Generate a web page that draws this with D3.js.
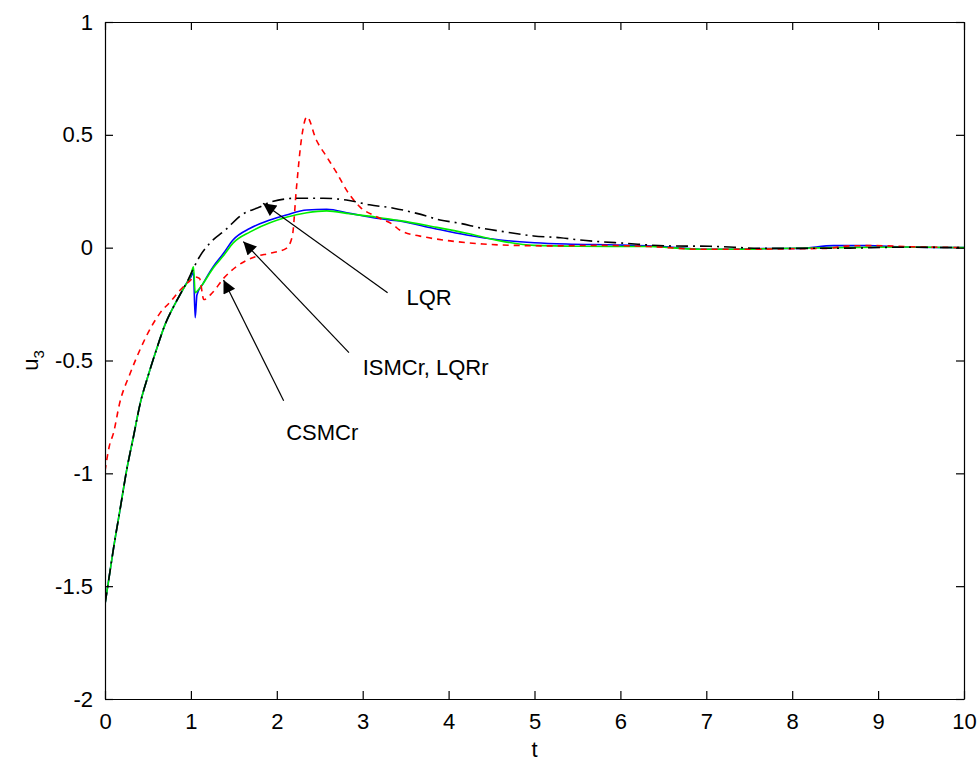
<!DOCTYPE html>
<html>
<head>
<meta charset="utf-8">
<script src="https://cdn.jsdelivr.net/npm/d3@7"></script>
<style>
  body { margin: 0; background: #fff; }
  svg text { font-family: Arial, "Liberation Sans", sans-serif; fill: #000; }
</style>
</head>
<body>
<div id="chart"></div>
<script>
// ---- data ----
const xTicks = [0, 1, 2, 3, 4, 5, 6, 7, 8, 9, 10];
const yTicks = [1, 0.5, 0, -0.5, -1, -1.5, -2];

// ISMCr (blue)
const tBlue = [0, 0.04, 0.1, 0.18, 0.25, 0.33, 0.41, 0.5, 0.6, 0.7, 0.8, 0.9, 0.97, 1.0, 1.03, 1.05, 1.07, 1.14, 1.26, 1.38, 1.49, 1.69, 1.92, 2.11, 2.35, 2.58, 2.85, 3.16, 3.43, 3.82, 4.21, 4.6, 5.0, 5.37, 5.96, 6.54, 6.93, 7.31, 7.7, 8.09, 8.48, 8.87, 9.25, 10];
const uBlue = [-1.58, -1.48, -1.33, -1.15, -0.99, -0.84, -0.69, -0.57, -0.45, -0.34, -0.26, -0.19, -0.145, -0.13, -0.11, -0.31, -0.21, -0.16, -0.084, -0.025, 0.034, 0.086, 0.123, 0.145, 0.167, 0.17, 0.152, 0.13, 0.118, 0.086, 0.056, 0.034, 0.022, 0.016, 0.012, 0.004, -0.007, -0.007, -0.004, -0.003, 0.009, 0.009, 0.004, 0];

// LQRr (green)
const tGreen = [0, 0.04, 0.1, 0.18, 0.25, 0.33, 0.41, 0.5, 0.6, 0.7, 0.8, 0.9, 0.97, 1.0, 1.03, 1.05, 1.08, 1.14, 1.26, 1.38, 1.49, 1.69, 1.92, 2.11, 2.35, 2.58, 2.85, 3.16, 3.43, 3.82, 4.21, 4.6, 5.0, 5.5, 6.3, 6.93, 7.31, 7.8, 8.5, 9.3, 10];
const uGreen = [-1.58, -1.48, -1.33, -1.15, -0.99, -0.84, -0.69, -0.57, -0.45, -0.34, -0.26, -0.19, -0.145, -0.12, -0.085, -0.2, -0.19, -0.16, -0.09, -0.035, 0.02, 0.07, 0.11, 0.135, 0.155, 0.163, 0.15, 0.135, 0.12, 0.093, 0.064, 0.03, 0.01, 0.006, 0.005, -0.007, -0.007, -0.004, 0.0, 0.003, 0];

// CSMCr (red dashed)
const tRed = [0, 0.05, 0.1, 0.17, 0.29, 0.41, 0.54, 0.64, 0.76, 0.87, 0.97, 1.05, 1.1, 1.15, 1.25, 1.38, 1.53, 1.75, 1.92, 2.11, 2.18, 2.23, 2.29, 2.35, 2.46, 2.58, 2.7, 2.81, 2.97, 3.16, 3.36, 3.43, 3.74, 4.02, 4.4, 4.79, 5.18, 5.76, 6.34, 6.93, 7.4, 8.0, 8.4, 8.67, 8.94, 9.4, 10];
const uRed = [-0.99, -0.88, -0.82, -0.69, -0.56, -0.45, -0.35, -0.29, -0.24, -0.19, -0.153, -0.13, -0.136, -0.23, -0.2, -0.136, -0.084, -0.04, -0.025, -0.003, 0.05, 0.27, 0.49, 0.58, 0.477, 0.403, 0.33, 0.256, 0.18, 0.137, 0.1, 0.078, 0.046, 0.03, 0.016, 0.01, 0.008, 0.01, 0.005, -0.007, -0.007, -0.005, -0.003, 0.008, 0.009, 0.004, 0];

// LQR (black dash-dot)
const tBlack = [0, 0.04, 0.1, 0.18, 0.25, 0.33, 0.41, 0.5, 0.6, 0.7, 0.8, 0.9, 0.97, 1.09, 1.22, 1.4, 1.59, 1.8, 1.94, 2.23, 2.54, 2.81, 3.08, 3.36, 3.63, 3.9, 4.13, 4.39, 4.64, 4.99, 5.3, 5.53, 6.07, 6.54, 7.04, 7.7, 8.01, 8.67, 9.25, 10];
const uBlack = [-1.58, -1.48, -1.33, -1.15, -0.99, -0.84, -0.69, -0.57, -0.45, -0.34, -0.26, -0.19, -0.14, -0.047, 0.02, 0.078, 0.145, 0.18, 0.204, 0.219, 0.219, 0.211, 0.19, 0.175, 0.152, 0.123, 0.108, 0.086, 0.071, 0.052, 0.044, 0.034, 0.019, 0.008, 0.006, -0.003, -0.003, -0.002, 0.002, 0];

// annotation labels with arrow tip / tail / text anchor (data units)
const noteLabels = ["LQR", "ISMCr, LQRr", "CSMCr"];
const noteTip = [[1.84, 0.197], [1.61, 0.027], [1.38, -0.143]];
const noteTail = [[3.29, -0.2], [2.84, -0.465], [2.08, -0.678]];
const noteText = [[3.51, -0.255], [3.0, -0.564], [2.11, -0.852]];

// ---- layout ----
const width = 980, height = 765;
const margin = { left: 105, right: 16, top: 22, bottom: 66 };
const innerW = width - margin.left - margin.right;
const innerH = height - margin.top - margin.bottom;

const svg = d3.select("#chart").append("svg")
  .attr("width", width)
  .attr("height", height)
  .style("background", "#fff");

const x = d3.scaleLinear().domain([0, 10]).range([margin.left, margin.left + innerW]);
const y = d3.scaleLinear().domain([-2, 1]).range([margin.top + innerH, margin.top]);

// clip to plot box
svg.append("clipPath").attr("id", "plotclip")
  .append("rect")
  .attr("x", margin.left).attr("y", margin.top)
  .attr("width", innerW).attr("height", innerH);

const line = d3.line()
  .x(d => x(d[0]))
  .y(d => y(d[1]))
  .curve(d3.curveMonotoneX);

const series = [
  { t: tBlue, u: uBlue, color: "#0000ff", dash: null },
  { t: tGreen, u: uGreen, color: "#00ee00", dash: null },
  { t: tRed, u: uRed, color: "#ff0000", dash: "6,5" },
  { t: tBlack, u: uBlack, color: "#000000", dash: "12,5,2,5" }
];

const plot = svg.append("g").attr("clip-path", "url(#plotclip)");
series.forEach(s => {
  plot.append("path")
    .datum(s.t.map((t, i) => [t, s.u[i]]))
    .attr("fill", "none")
    .attr("stroke", s.color)
    .attr("stroke-width", 1.6)
    .attr("stroke-dasharray", s.dash)
    .attr("d", line);
});

// ---- axes (MATLAB-style box with inward ticks) ----
const tickLen = 8;
const axisStyle = g => {
  g.select(".domain").attr("stroke", "#000").attr("stroke-width", 1.2);
  g.selectAll(".tick line").attr("stroke", "#000").attr("stroke-width", 1.2);
  g.selectAll(".tick text").attr("font-size", 22).attr("font-family", "Arial, 'Liberation Sans', sans-serif");
};

svg.append("g")
  .attr("transform", `translate(0,${margin.top + innerH})`)
  .call(d3.axisBottom(x).tickValues(xTicks).tickSizeInner(-tickLen).tickSizeOuter(0).tickPadding(14).tickFormat(d3.format("d")))
  .call(axisStyle);

svg.append("g")
  .attr("transform", `translate(0,${margin.top})`)
  .call(d3.axisTop(x).tickValues(xTicks).tickSizeInner(-tickLen).tickSizeOuter(0).tickFormat(""))
  .call(axisStyle);

svg.append("g")
  .attr("transform", `translate(${margin.left},0)`)
  .call(d3.axisLeft(y).tickValues(yTicks).tickSizeInner(-tickLen).tickSizeOuter(0).tickPadding(12).tickFormat(d => String(d)))
  .call(axisStyle);

svg.append("g")
  .attr("transform", `translate(${margin.left + innerW},0)`)
  .call(d3.axisRight(y).tickValues(yTicks).tickSizeInner(-tickLen).tickSizeOuter(0).tickFormat(""))
  .call(axisStyle);

// axis labels
svg.append("text")
  .attr("x", x(5))
  .attr("y", 757)
  .attr("text-anchor", "middle")
  .attr("font-size", 22)
  .text("t");

const ylab = svg.append("text")
  .attr("transform", `translate(38,${y(-0.5)}) rotate(-90)`)
  .attr("text-anchor", "middle")
  .attr("font-size", 22);
ylab.append("tspan").text("u");
ylab.append("tspan").attr("font-size", 15).attr("dy", 6).text("3");

// ---- annotations ----
const defs = svg.append("defs");
defs.append("marker")
  .attr("id", "arrowhead")
  .attr("viewBox", "0 0 10 10")
  .attr("refX", 10).attr("refY", 5)
  .attr("markerUnits", "userSpaceOnUse")
  .attr("markerWidth", 20).attr("markerHeight", 13)
  .attr("orient", "auto")
  .append("path")
  .attr("d", "M0,0 L10,5 L0,10 z")
  .attr("fill", "#000");

noteLabels.forEach((lab, i) => {
  svg.append("line")
    .attr("x1", x(noteTail[i][0])).attr("y1", y(noteTail[i][1]))
    .attr("x2", x(noteTip[i][0])).attr("y2", y(noteTip[i][1]))
    .attr("stroke", "#000")
    .attr("stroke-width", 1.2)
    .attr("marker-end", "url(#arrowhead)");
  svg.append("text")
    .attr("x", x(noteText[i][0]))
    .attr("y", y(noteText[i][1]))
    .attr("font-size", 22)
    .text(lab);
});
</script>
</body>
</html>
